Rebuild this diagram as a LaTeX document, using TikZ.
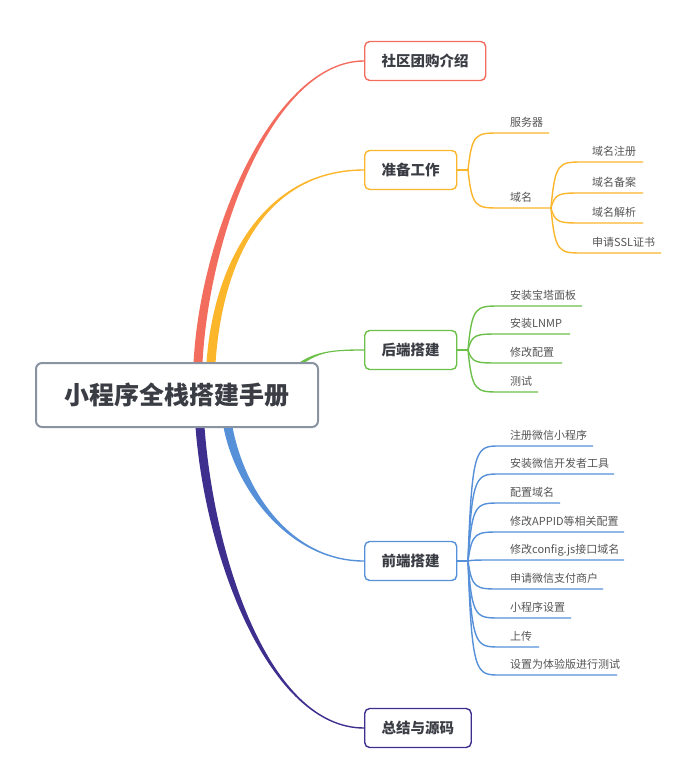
\documentclass[tikz,border=0pt]{standalone}
\usepackage{fontspec}
\setmainfont{Noto Sans CJK SC}
\usetikzlibrary{calc}
\pgfdeclarelayer{bg}
\pgfsetlayers{bg,main}
\definecolor{redc}{HTML}{F36D5E}
\definecolor{orac}{HTML}{FBB62C}
\definecolor{grnc}{HTML}{6CC04A}
\definecolor{bluc}{HTML}{5590D9}
\definecolor{purc}{HTML}{3E2E8E}
\definecolor{rootc}{HTML}{8A93A2}
\definecolor{textc}{HTML}{3A3D44}
\definecolor{leafc}{HTML}{555555}
\tikzset{
  topic/.style={draw=#1, line width=1.4pt, rounded corners=5pt, fill=white, text=textc,
    font=\bfseries\fontsize{14.5}{15}\selectfont, minimum height=39pt, inner xsep=17pt, anchor=west},
  leaf/.style={anchor=base west, inner sep=0pt, text=leafc, font=\fontsize{11}{12}\selectfont},
  sub/.style={draw=#1, line width=1.4pt},
}
% colour, start half width, end half width (signed), start, control 1, control 2, end
\newcommand{\taper}[7]{%
  \fill[#1] ($(#4)-(#2,0)$) .. controls ($(#5)-(#2,0)$) and ($(#6)-(0,#3)$) .. ($(#7)-(0,#3)$)
    -- ($(#7)+(0,#3)$) .. controls ($(#6)+(0,#3)$) and ($(#5)+(#2,0)$) .. ($(#4)+(#2,0)$) -- cycle;}
\begin{document}
\begin{tikzpicture}[x=1pt,y=-1pt]
\useasboundingbox (0,0) rectangle (700,781);
\node[draw=rootc, line width=2pt, rounded corners=6pt, fill=white, text=textc,
  font=\bfseries\fontsize{25}{26}\selectfont, minimum width=282pt, minimum height=64pt] (root) at (177,395) {小程序全栈搭建手册};
\node[topic=redc] (comm) at (364,61) {社区团购介绍};
\node[topic=orac] (prep) at (364,170) {准备工作};
\node[topic=grnc] (back) at (364,350) {后端搭建};
\node[topic=bluc] (front) at (364,561) {前端搭建};
\node[topic=purc] (sum) at (364,728) {总结与源码};
% main branches
\coordinate (r1) at (198,363);
\coordinate (r2) at (211,363);
\coordinate (r3) at (300,364);
\coordinate (r4) at (228,427);
\coordinate (r5) at (200,427);
\begin{pgfonlayer}{bg}
\taper{redc}{4.5}{0.7}{r1}{205,230}{275,61}{comm.west}
\taper{orac}{4.5}{0.7}{r2}{218,260}{266,170}{prep.west}
\taper{grnc}{2.8}{0.7}{r3}{318,351}{335,350}{back.west}
\taper{bluc}{4.5}{-0.7}{r4}{240,490}{290,561}{front.west}
\taper{purc}{4.5}{-0.7}{r5}{210,560}{270,728}{sum.west}
\end{pgfonlayer}
% 准备工作
\coordinate (jp) at (468,170);
\draw[sub=orac] (prep.east) -- (jp);
\foreach \y/\e/\t [count=\i] in {133/549/服务器, 208/551/域名}{
  \coordinate (pu\i) at (500,\y);
  \draw[sub=orac] (jp) .. controls ($(jp|-pu\i)+(4,0)$) and ($(jp|-pu\i)+(8,0)$) .. (pu\i) -- (\e,\y);
  \node[leaf] (p\i) at (510,\y-7) {\t};
}
\coordinate (jd) at (551,208);
\foreach \y/\e/\t [count=\i] in {162/643/域名注册, 193/643/域名备案, 223/643/域名解析, 253/661/申请SSL证书}{
  \coordinate (du\i) at (583,\y);
  \draw[sub=orac] (jd) .. controls ($(jd|-du\i)+(4,0)$) and ($(jd|-du\i)+(8,0)$) .. (du\i) -- (\e,\y);
  \node[leaf] (d\i) at (592,\y-7) {\t};
}
% 后端搭建
\coordinate (jb) at (468,350);
\draw[sub=grnc] (back.east) -- (jb);
\foreach \y/\e/\t [count=\i] in {306/582/安装宝塔面板, 334/570/安装LNMP, 363/562/修改配置, 392/538/测试}{
  \coordinate (bu\i) at (500,\y);
  \draw[sub=grnc] (jb) .. controls ($(jb|-bu\i)+(4,0)$) and ($(jb|-bu\i)+(8,0)$) .. (bu\i) -- (\e,\y);
  \node[leaf] (b\i) at (510,\y-7) {\t};
}
% 前端搭建
\coordinate (jf) at (468,561);
\draw[sub=bluc] (front.east) -- (jf);
\foreach \y/\e/\t [count=\i] in {446/593/注册微信小程序, 474/614/安装微信开发者工具, 503/560/配置域名,
    532/624/修改APPID等相关配置, 560/624/修改config.js接口域名, 589/603/申请微信支付商户,
    618/571/小程序设置, 647/539/上传, 675/617/设置为体验版进行测试}{
  \coordinate (fu\i) at (500,\y);
  \draw[sub=bluc] (jf) .. controls ($(jf|-fu\i)+(4,0)$) and ($(jf|-fu\i)+(8,0)$) .. (fu\i) -- (\e,\y);
  \node[leaf] (f\i) at (510,\y-7) {\t};
}
\end{tikzpicture}
\end{document}
